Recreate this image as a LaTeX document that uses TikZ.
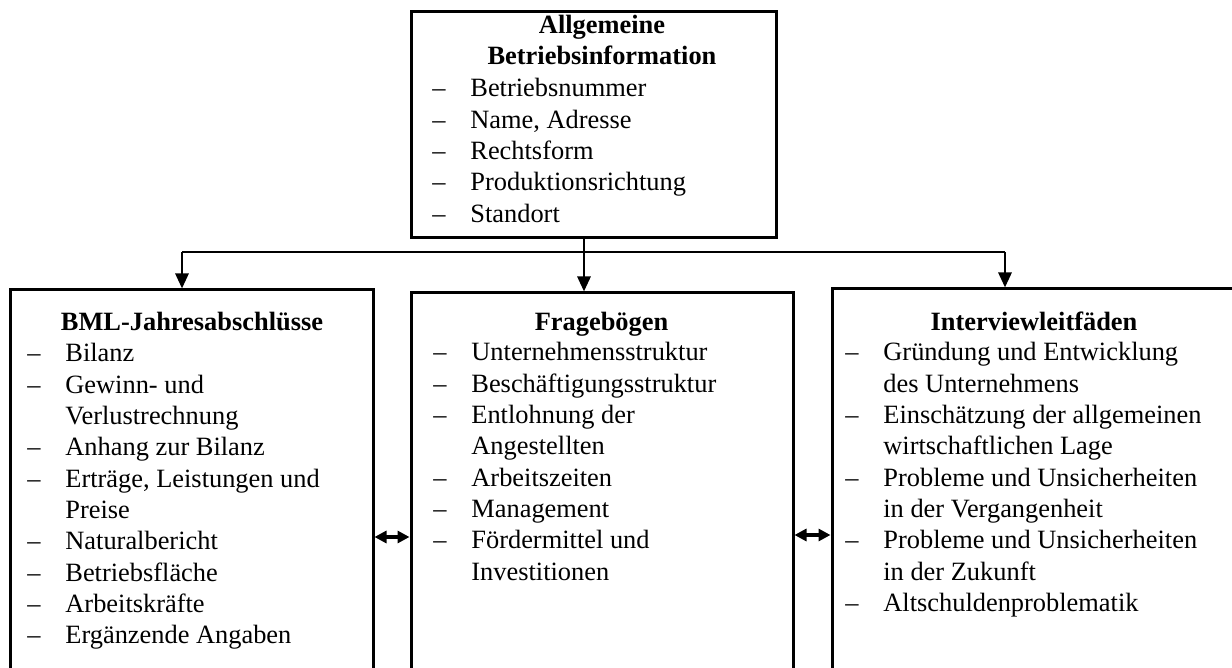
\documentclass[tikz,border=0pt]{standalone}
\usepackage{fontspec}
\setmainfont{Liberation Serif}
\usetikzlibrary{arrows.meta}
\begin{document}
\begin{tikzpicture}[x=0.5pt,y=-0.5pt,
  box/.style={draw,line width=1.5pt,rectangle,inner sep=0pt},
  txt/.style={anchor=base west,inner sep=0pt,font=\fontsize{13.2pt}{15.6pt}\selectfont},
  ttl/.style={anchor=base,inner sep=0pt,font=\fontsize{13.2pt}{15.6pt}\selectfont\bfseries},
  arr/.style={line width=1.4pt,-{Triangle[length=7.5pt,width=6.5pt]}},
  darr/.style={line width=1.6pt,{Triangle[length=6pt,width=6pt]}-{Triangle[length=6pt,width=6pt]}},
  bus/.style={line width=1.4pt}]
\useasboundingbox (0,0) rectangle (1232,668);

% boxes
\node[box,minimum width=182.5pt,minimum height=113pt] (top) at (593.5,125) {};
\node[box,minimum width=181.5pt,minimum height=215pt] (left) at (191.5,505) {};
\node[box,minimum width=191pt,minimum height=213.5pt] (mid) at (602,506.5) {};
\node[box,minimum width=214pt,minimum height=215.5pt] (right) at (1046,504.5) {};

% top box text
\node[ttl] (t1) at (602,34) {Allgemeine};
\node[ttl] (t2) at (602,65) {Betriebsinformation};
\foreach \t [count=\i from 0] in {Betriebsnummer,{Name, Adresse},Rechtsform,Produktionsrichtung,Standort}{
  \node[txt] (TD\i) at (432,{97+31.3*\i}) {–};
  \node[txt] (T\i) at (470,{97+31.3*\i}) {\t};
}

% left box text
\node[ttl] (lt) at (192,330) {BML-Jahresabschlüsse};
\foreach \d/\t [count=\i from 0] in {1/Bilanz,1/Gewinn- und,0/Verlustrechnung,1/Anhang zur Bilanz,1/{Erträge, Leistungen und},0/Preise,1/Naturalbericht,1/Betriebsfläche,1/Arbeitskräfte,1/Ergänzende Angaben}{
  \ifnum\d=1 \node[txt] (LD\i) at (27,{362+31.3*\i}) {–};\fi
  \node[txt] (L\i) at (65,{362+31.3*\i}) {\t};
}

% middle box text
\node[ttl] (mt) at (601.5,330) {Fragebögen};
\foreach \d/\t [count=\i from 0] in {1/Unternehmensstruktur,1/Beschäftigungsstruktur,1/Entlohnung der,0/Angestellten,1/Arbeitszeiten,1/Management,1/Fördermittel und,0/Investitionen}{
  \ifnum\d=1 \node[txt] (MD\i) at (433,{361+31.3*\i}) {–};\fi
  \node[txt] (M\i) at (471,{361+31.3*\i}) {\t};
}

% right box text
\node[ttl] (rt) at (1034,330) {Interviewleitfäden};
\foreach \d/\t [count=\i from 0] in {1/Gründung und Entwicklung,0/des Unternehmens,1/Einschätzung der allgemeinen,0/wirtschaftlichen Lage,1/Probleme und Unsicherheiten,0/in der Vergangenheit,1/Probleme und Unsicherheiten,0/in der Zukunft,1/Altschuldenproblematik}{
  \ifnum\d=1 \node[txt] (RD\i) at (845,{361+31.3*\i}) {–};\fi
  \node[txt] (R\i) at (883,{361+31.3*\i}) {\t};
}

% connectors
\coordinate (bl) at (182,252);
\coordinate (bc) at (584,252);
\coordinate (br) at (1005,252);
\draw[bus] (bl) -- (br);
\draw[arr] (top.south -| bc) -- (mid.north -| bc);
\draw[arr] (bl) -- (left.north -| bl);
\draw[arr] (br) -- (right.north -| br);
\coordinate (d1) at (392,537);
\coordinate (d2) at (812,535);
\draw[darr] (left.east |- d1) -- (mid.west |- d1);
\draw[darr] (mid.east |- d2) -- (right.west |- d2);
\end{tikzpicture}
\end{document}
